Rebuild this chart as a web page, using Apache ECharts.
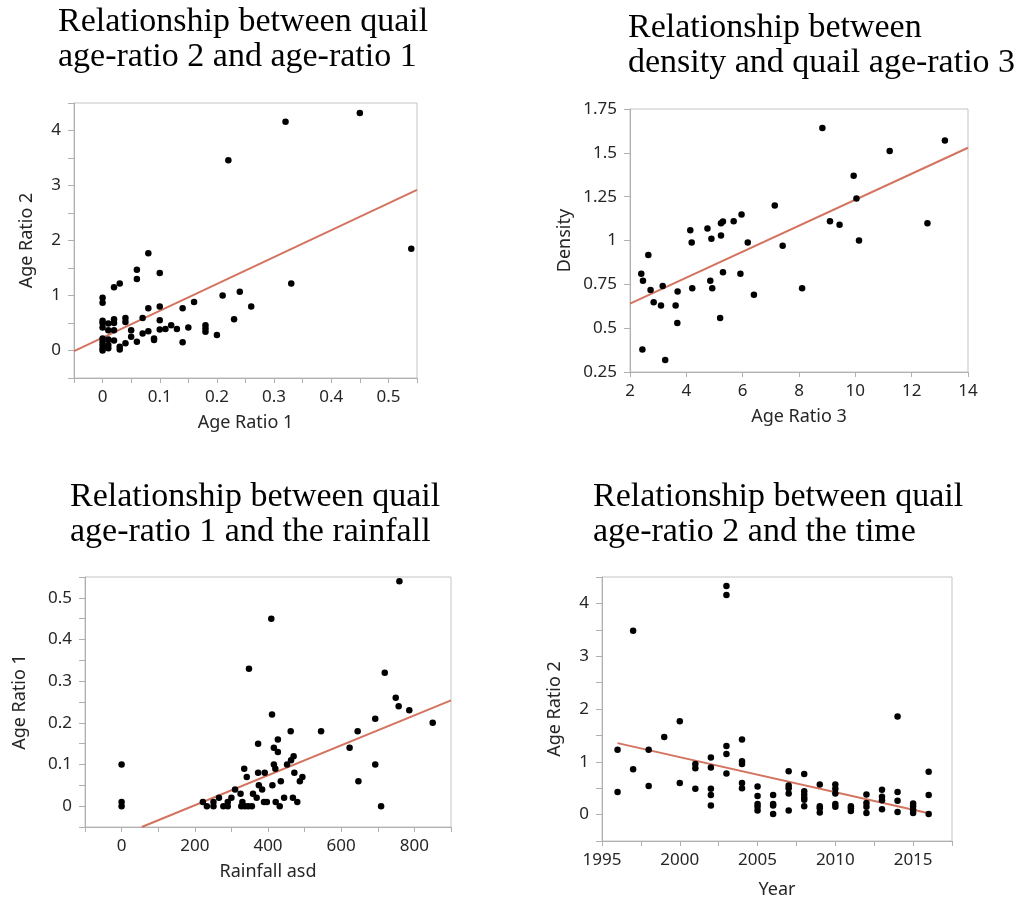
<!DOCTYPE html>
<html>
<head>
<meta charset="utf-8">
<script src="https://cdn.jsdelivr.net/npm/echarts@6/dist/echarts.min.js"></script>
<style>
html,body{margin:0;padding:0;background:#fff;}
#c{width:1027px;height:900px;}
</style>
</head>
<body>
<div id="c"></div>
<script>
// Panel 1: Age Ratio 1 (x) vs Age Ratio 2 (y)
const p1AgeRatio1 = [0.45,0.32,0.22,0.54,0.33,0.08,0.06,0.06,0.10,0.03,0.02,0,0,0.21,0.24,0.16,0.26,0.14,0.08,0.10,0.23,0.07,0.04,0.04,0.02,0.02,0,0,0,0.01,0.10,0.12,0.13,0.15,0.18,0.18,0.18,0.20,0.11,0.10,0.08,0.07,0.05,0.05,0.09,0.09,0.06,0.04,0.03,0.03,0.14,0.02,0.02,0.01,0.01,0.01,0.01,0,0,0,0,0];
const p1AgeRatio2 = [4.32,4.16,3.46,1.85,1.22,1.77,1.47,1.30,1.41,1.22,1.15,0.96,0.87,1.00,1.07,0.88,0.80,0.77,0.77,0.80,0.57,0.59,0.59,0.52,0.57,0.50,0.54,0.50,0.42,0.49,0.55,0.46,0.39,0.42,0.46,0.40,0.34,0.28,0.39,0.38,0.35,0.31,0.37,0.25,0.22,0.19,0.16,0.13,0.07,0.02,0.15,0.37,0.18,0.37,0.20,0.10,0.04,0.22,0.16,0.10,0.04,0.00];
const p1Fit = [[-0.05,-0.01],[0.55,2.92]];

// Panel 2: Age Ratio 3 (x) vs Density (y)
const p2AgeRatio3 = [8.83,13.18,11.22,9.94,10.04,7.14,5.96,5.68,5.30,5.23,9.10,9.44,12.56,4.75,4.14,5.23,4.89,4.19,6.18,10.13,7.42,2.65,2.40,5.92,5.30,2.46,4.85,3.16,2.73,3.69,4.21,4.92,8.11,6.40,2.84,3.10,3.62,3.68,5.20,2.44,3.25];
const p2Density = [1.642,1.571,1.510,1.369,1.240,1.200,1.149,1.110,1.109,1.099,1.110,1.090,1.099,1.069,1.059,1.029,1.010,0.989,0.989,1.000,0.970,0.918,0.810,0.810,0.819,0.770,0.770,0.741,0.718,0.709,0.728,0.728,0.728,0.690,0.648,0.629,0.629,0.530,0.558,0.378,0.319];
const p2Fit = [[2,0.640],[14,1.529]];

// Panel 3: Rainfall asd (x) vs Age Ratio 1 (y)
const p3Rainfall = [0,0,0,759,409,348,719,749,757,786,411,693,850,462,545,645,373,427,623,416,427,470,463,452,416,420,693,335,373,391,472,342,494,435,487,647,375,412,384,310,325,359,369,468,444,266,300,222,251,290,330,389,397,421,480,233,251,278,290,327,337,346,356,432,709];
const p3AgeRatio1 = [0.10,0.01,0,0.54,0.45,0.33,0.32,0.26,0.24,0.23,0.22,0.21,0.20,0.18,0.18,0.18,0.15,0.16,0.14,0.14,0.13,0.12,0.11,0.10,0.10,0.09,0.10,0.09,0.08,0.08,0.08,0.07,0.07,0.06,0.06,0.06,0.05,0.05,0.04,0.04,0.03,0.03,0.02,0.02,0.02,0.02,0.02,0.01,0.01,0.01,0.01,0.01,0.01,0.01,0.01,0,0,0,0,0,0,0,0,0,0];
const p3Fit = [[55,-0.05],[900,0.254]];

// Panel 4: Year (x) vs Age Ratio 2 (y)
const p4Year = [1996,1996,1997,1997,1998,1998,1999,2000,2000,2001,2001,2001,2002,2002,2002,2002,2002,2003,2003,2003,2003,2003,2004,2004,2004,2004,2004,2005,2005,2005,2005,2005,2006,2006,2006,2006,2007,2007,2007,2007,2007,2008,2008,2008,2008,2008,2008,2009,2009,2009,2009,2010,2010,2010,2010,2010,2011,2011,2011,2012,2012,2012,2012,2013,2013,2013,2013,2014,2014,2014,2014,2015,2015,2015,2015,2016,2016,2016];
const p4AgeRatio2 = [1.23,0.43,3.48,0.86,1.23,0.54,1.47,1.77,0.60,0.96,0.88,0.49,1.08,0.89,0.49,0.37,0.17,4.33,4.16,1.30,1.15,0.78,1.42,1.01,0.96,0.60,0.50,0.53,0.35,0.20,0.15,0.08,0.37,0.20,0.17,0.01,0.82,0.55,0.50,0.40,0.08,0.77,0.44,0.38,0.32,0.28,0.16,0.57,0.16,0.12,0.04,0.57,0.49,0.40,0.20,0.15,0.16,0.12,0.07,0.38,0.22,0.15,0.03,0.47,0.34,0.27,0.10,1.86,0.43,0.26,0.05,0.21,0.16,0.09,0.03,0.81,0.37,0.01];
const p4Fit = [[1996,1.354],[2016,0.025]];

const titles = [
  'Relationship between quail\nage-ratio 2 and age-ratio 1',
  'Relationship between\ndensity and quail age-ratio 3',
  'Relationship between quail\nage-ratio 1 and the rainfall',
  'Relationship between quail\nage-ratio 2 and the time'
];

function zip(a,b){return a.map((v,i)=>[v,b[i]]);}
function isMult(v,step){const q=v/step;return Math.abs(q-Math.round(q))<1e-6;}
function fmt(v){const r=Math.round(v*1000)/1000;return String(r);}

const SANS = "'Noto Sans', 'Open Sans', sans-serif";
const SERIF = "'Liberation Serif', 'DejaVu Serif', serif";
const AX = '#b0b0b0';
const TXT = '#262626';

function xAxis(idx, min, max, interval, labelStep, name, nameGap){
  return {
    gridIndex: idx, type:'value', min:min, max:max, interval:interval,
    name:name, nameLocation:'middle', nameGap:nameGap,
    nameTextStyle:{fontFamily:SANS, fontSize:18, color:TXT},
    axisLine:{show:true, onZero:false, lineStyle:{color:AX}},
    axisTick:{show:true, length:5, lineStyle:{color:AX}},
    axisLabel:{margin:11, fontFamily:SANS, fontSize:17, color:TXT, showMinLabel:true, showMaxLabel:true,
      formatter:function(v){return isMult(v,labelStep)?fmt(v):'';}},
    splitLine:{show:false}
  };
}
function yAxis(idx, min, max, interval, labelStep, name, nameGap){
  return {
    gridIndex: idx, type:'value', min:min, max:max, interval:interval,
    name:name, nameLocation:'middle', nameGap:nameGap,
    nameTextStyle:{fontFamily:SANS, fontSize:18, color:TXT},
    axisLine:{show:true, onZero:false, lineStyle:{color:AX}},
    axisTick:{show:true, length:6, lineStyle:{color:AX}},
    axisLabel:{margin:13, fontFamily:SANS, fontSize:17, color:TXT, showMinLabel:true, showMaxLabel:true,
      formatter:function(v){return isMult(v,labelStep)?fmt(v):'';}},
    splitLine:{show:false}
  };
}
function scatter(idx, data){
  return {type:'scatter', xAxisIndex:idx, yAxisIndex:idx, data:data, symbolSize:6.5,
    itemStyle:{color:'#000', opacity:1}, z:3, silent:true};
}
function fit(idx, data){
  return {type:'line', xAxisIndex:idx, yAxisIndex:idx, data:data, showSymbol:false, symbol:'none',
    lineStyle:{color:'#d4735f', width:2}, z:2, silent:true, animation:false};
}

const titleStyle = {fontFamily:SERIF, fontSize:34, fontWeight:'normal', color:'#000', lineHeight:35};

const option = {
  animation:false,
  title:[
    {text:titles[0], left:58, top:5, textStyle:titleStyle, padding:0},
    {text:titles[1], left:628, top:11, textStyle:titleStyle, padding:0},
    {text:titles[2], left:70, top:480, textStyle:titleStyle, padding:0},
    {text:titles[3], left:593, top:480, textStyle:titleStyle, padding:0}
  ],
  grid:[
    {left:74, top:103, width:343, height:275, show:true, borderColor:'#c4c4c4', borderWidth:1, containLabel:false},
    {left:630, top:109, width:338, height:263, show:true, borderColor:'#c4c4c4', borderWidth:1, containLabel:false},
    {left:85, top:577, width:366, height:250, show:true, borderColor:'#c4c4c4', borderWidth:1, containLabel:false},
    {left:602, top:577, width:350, height:265, show:true, borderColor:'#c4c4c4', borderWidth:1, containLabel:false}
  ],
  xAxis:[
    xAxis(0, -0.05, 0.55, 0.05, 0.1, 'Age Ratio 1', 36),
    xAxis(1, 2, 14, 2, 2, 'Age Ratio 3', 36),
    xAxis(2, -100, 900, 100, 200, 'Rainfall asd', 36),
    xAxis(3, 1995, 2017.5, 2.5, 5, 'Year', 40)
  ],
  yAxis:[
    yAxis(0, -0.5, 4.5, 0.5, 1, 'Age Ratio 2', 38),
    yAxis(1, 0.25, 1.75, 0.25, 0.25, 'Density', 56),
    yAxis(2, -0.05, 0.55, 0.05, 0.1, 'Age Ratio 1', 56),
    yAxis(3, -0.5, 4.5, 0.5, 1, 'Age Ratio 2', 38)
  ],
  series:[
    fit(0, p1Fit), scatter(0, zip(p1AgeRatio1, p1AgeRatio2)),
    fit(1, p2Fit), scatter(1, zip(p2AgeRatio3, p2Density)),
    fit(2, p3Fit), scatter(2, zip(p3Rainfall, p3AgeRatio1)),
    fit(3, p4Fit), scatter(3, zip(p4Year, p4AgeRatio2))
  ]
};

const chart = echarts.init(document.getElementById('c'), null, {renderer:'canvas'});
chart.setOption(option);
</script>
</body>
</html>
